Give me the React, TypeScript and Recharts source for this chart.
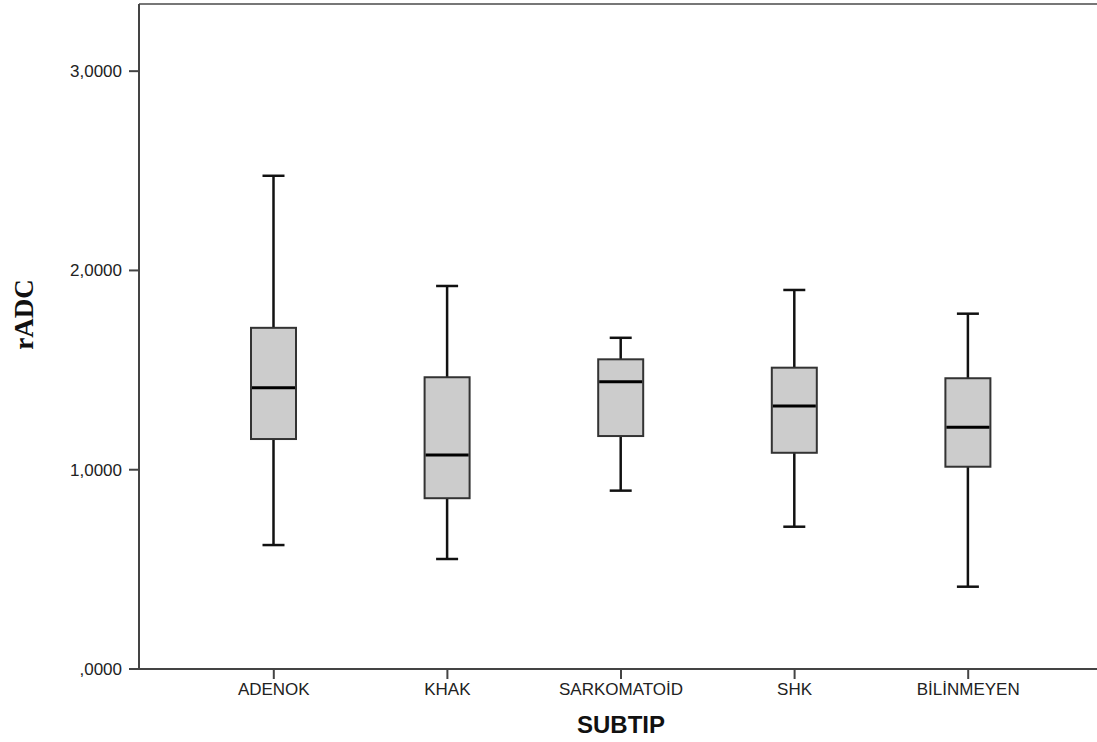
import { Bar, BarChart, Label, ReferenceLine, XAxis, YAxis } from 'recharts';

const categories = ['ADENOK', 'KHAK', 'SARKOMATOİD', 'SHK', 'BİLİNMEYEN'];
const whiskerLow = [0.622, 0.552, 0.895, 0.714, 0.413];
const q1 = [1.154, 0.857, 1.169, 1.085, 1.015];
const median = [1.411, 1.074, 1.442, 1.32, 1.213];
const q3 = [1.712, 1.464, 1.554, 1.512, 1.459];
const whiskerHigh = [2.475, 1.922, 1.662, 1.902, 1.783];
const yTicks = [0, 1, 2, 3];
const Y_MAX = 3.337;

const FONT = 'Arial, "Liberation Sans", sans-serif';

const data = categories.map((name, i) => ({
  name,
  range: [whiskerLow[i], whiskerHigh[i]],
  low: whiskerLow[i],
  q1: q1[i],
  median: median[i],
  q3: q3[i],
  high: whiskerHigh[i],
}));

function formatTick(v: number): string {
  if (v === 0) return ',0000';
  return v.toFixed(4).replace('.', ',');
}

// box drawn inside the range bar (low..high); pixels per unit taken from the bar itself
function BoxShape(props: any) {
  const { x, y, width, height } = props;
  const p = props.payload ?? props;
  const perUnit = height / (p.high - p.low);
  const toPx = (v: number) => y + (p.high - v) * perUnit;
  const cx = x + width / 2;
  const cap = 11;
  return (
    <g>
      <line x1={cx} x2={cx} y1={toPx(p.high)} y2={toPx(p.q3)} stroke="#111" strokeWidth={2.5} />
      <line x1={cx} x2={cx} y1={toPx(p.q1)} y2={toPx(p.low)} stroke="#111" strokeWidth={2.5} />
      <line x1={cx - cap} x2={cx + cap} y1={toPx(p.high)} y2={toPx(p.high)} stroke="#111" strokeWidth={2.5} />
      <line x1={cx - cap} x2={cx + cap} y1={toPx(p.low)} y2={toPx(p.low)} stroke="#111" strokeWidth={2.5} />
      <rect
        x={x}
        y={toPx(p.q3)}
        width={width}
        height={toPx(p.q1) - toPx(p.q3)}
        fill="#cccccc"
        stroke="#333"
        strokeWidth={2}
      />
      <line x1={x + 1} x2={x + width - 1} y1={toPx(p.median)} y2={toPx(p.median)} stroke="#000" strokeWidth={3} />
    </g>
  );
}

export default function App() {
  return (
    <div style={{ position: 'absolute', left: 0, top: 0, width: 1097, height: 742, background: '#fff' }}>
      <BarChart width={1097} height={742} data={data} margin={{ top: 4, right: 0, left: 0, bottom: 0 }}>
        <XAxis
          dataKey="name"
          height={73}
          interval={0}
          padding={{ left: 48, right: 42 }}
          tickSize={10}
          tickMargin={4}
          tick={{ fontSize: 17, fill: '#222', fontFamily: FONT }}
          axisLine={{ stroke: '#444', strokeWidth: 2 }}
          tickLine={{ stroke: '#444', strokeWidth: 2 }}
        >
          <Label
            content={({ viewBox }: any) => (
              <text
                x={viewBox.x + viewBox.width / 2 + 3}
                y={viewBox.y + 64}
                textAnchor="middle"
                fontSize={24}
                fontWeight="bold"
                fontFamily={FONT}
                fill="#111"
              >
                SUBTIP
              </text>
            )}
          />
        </XAxis>
        <YAxis
          type="number"
          width={139}
          domain={[0, Y_MAX]}
          ticks={yTicks}
          allowDataOverflow
          tickFormatter={formatTick}
          tickSize={10}
          tickMargin={7}
          tick={{ fontSize: 17, fill: '#222', fontFamily: FONT }}
          axisLine={{ stroke: '#444', strokeWidth: 2 }}
          tickLine={{ stroke: '#444', strokeWidth: 2 }}
        >
          <Label
            content={({ viewBox }: any) => {
              const lx = viewBox.x + 33;
              const ly = viewBox.y + viewBox.height / 2 - 22;
              return (
                <text
                  x={lx}
                  y={ly}
                  transform={`rotate(-90, ${lx}, ${ly})`}
                  textAnchor="middle"
                  fontSize={27}
                  fontWeight="bold"
                  fontFamily='"Times New Roman", "Liberation Serif", serif'
                  fill="#111"
                >
                  rADC
                </text>
              );
            }}
          />
        </YAxis>
        <ReferenceLine y={Y_MAX} stroke="#777" strokeWidth={2} />
        <Bar dataKey="range" barSize={45} shape={BoxShape} isAnimationActive={false} />
      </BarChart>
    </div>
  );
}
